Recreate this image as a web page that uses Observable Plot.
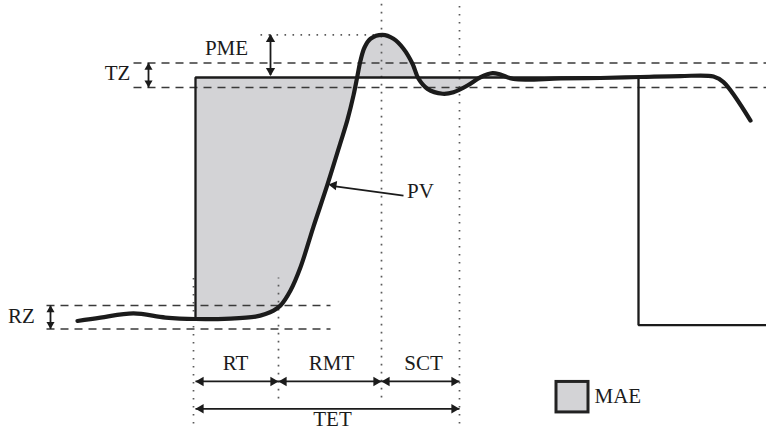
<!DOCTYPE html>
<html>
<head>
<meta charset="utf-8">
<script src="https://cdn.jsdelivr.net/npm/d3@7"></script>
<script src="https://cdn.jsdelivr.net/npm/@observablehq/plot@0.6"></script>
<style>
  html, body { margin: 0; padding: 0; background: #fff; }
  #chart svg { display: block; }
</style>
</head>
<body>
<div id="chart"></div>
<script>
// ---- Data (time in arbitrary units, value in % of step) ----
const pvTime  = [77, 100, 133, 165, 195, 230, 255, 265, 273, 280, 290, 300, 313, 327, 340, 347, 353, 357, 360, 364, 370, 382, 393, 403, 412, 418, 427, 442, 453, 467, 480, 492, 500, 513, 560, 600, 640, 680, 713, 723, 750];
const pvValue = [-0.6, 0.8, 2.5, 0.8, 0.2, 0.4, 1.2, 2.3, 3.7, 5.8, 12.0, 21.6, 38.4, 55.8, 73.1, 82.6, 92.6, 100.8, 107.0, 112.4, 116.0, 117.6, 116.0, 111.9, 105.7, 99.5, 95.3, 93.3, 93.9, 96.7, 100.1, 101.8, 101.2, 99.4, 99.6, 99.8, 100.2, 100.6, 100.4, 98.1, 82.2];

const spTime  = [195, 195, 638, 638, 766];
const spValue = [0, 100, 100, -2.3, -2.3];
const setpoint = 100;

const tzBand = [95.9, 106.0];   // tolerance zone
const rzBand = [-3.9, 5.8];     // rest zone
const peakValue = 117.6;

// milestone times: step, end of RT, end of RMT (peak), end of SCT
const tStep = 195, tRT = 278, tPeak = 381, tSettle = 459;

const spanLabels = ["RT", "RMT", "SCT"];
const spanStart  = [tStep, tRT, tPeak];
const spanEnd    = [tRT, tPeak, tSettle];
const spanY = -25.6;
const tetY = -36.9;

const labels = [
  {text: "PME", x: 226, y: 112.0},
  {text: "TZ",  x: 117, y: 101.7},
  {text: "RZ",  x: 21,  y: 1.2},
  {text: "PV",  x: 420, y: 52.9},
  {text: "RT",  x: 235, y: -18.2},
  {text: "RMT", x: 331, y: -18.2},
  {text: "SCT", x: 423, y: -18.2},
  {text: "TET", x: 332, y: -41.4}
];
const legendLabel = [{text: "MAE", x: 594, y: -31.6}];

// ---- Derived tables ----
const pv = pvTime.map((t, i) => ({t, v: pvValue[i]}));
const sp = spTime.map((t, i) => ({t, v: spValue[i]}));
const mae = pv.filter(d => d.t >= tStep && d.t <= 513);

const hArrows = spanLabels.map((l, i) => ({x1: spanStart[i], x2: spanEnd[i], y: spanY}))
  .concat([{x1: tStep, x2: tSettle, y: tetY}]);
const vArrows = [
  {x: 148, y1: tzBand[0], y2: tzBand[1], r: 2.6},
  {x: 50,  y1: rzBand[0], y2: rzBand[1], r: 2.6},
  {x: 270, y1: 101, y2: peakValue, r: 3.4}
];

const dashedLines = [
  {x1: 133, x2: 766, y: tzBand[0]},
  {x1: 133, x2: 766, y: tzBand[1]},
  {x1: 46,  x2: 330, y: rzBand[0]},
  {x1: 46,  x2: 330, y: rzBand[1]}
];
const dottedV = [
  {x: 193, y1: -43.0, y2: 17.4},
  {x: tRT, y1: -32.6, y2: 17.4},
  {x: tPeak, y1: -32.2, y2: 131.8},
  {x: tSettle, y1: -43.0, y2: 131.8}
];
const dottedH = [{x1: 260, x2: tPeak, y: peakValue}];

const pointer = [{x1: 403, y1: 51.2, x2: 333, y2: 55.1}];
const pointerTip = [{x: 328, y: 55.8}];

const legendBox = [{x1: 556, x2: 588, y1: -38.4, y2: -25.8}];

const font = "'Liberation Serif', 'DejaVu Serif', serif";
const ink = "#1b1b1b";
const shade = "#d3d3d6";

const chart = Plot.plot({
  width: 766,
  height: 431,
  margin: 0,
  x: {domain: [0, 766], axis: null},
  y: {domain: [-46.28, 131.82], axis: null},
  style: {background: "#fff"},
  marks: [
    Plot.areaY(mae, {x: "t", y1: setpoint, y2: "v", fill: shade, curve: "catmull-rom"}),
    Plot.link(dashedLines, {x1: "x1", x2: "x2", y1: "y", y2: "y", stroke: "#3a3a3a", strokeWidth: 1.6, strokeDasharray: "8,6"}),
    Plot.link(dottedV, {x1: "x", x2: "x", y1: "y1", y2: "y2", stroke: "#5a5a5a", strokeWidth: 1.7, strokeDasharray: "1.6,6.4"}),
    Plot.link(dottedH, {x1: "x1", x2: "x2", y1: "y", y2: "y", stroke: "#5a5a5a", strokeWidth: 1.7, strokeDasharray: "1.6,6.4"}),
    Plot.line(sp, {x: "t", y: "v", stroke: ink, strokeWidth: 2.3, strokeLinejoin: "miter"}),
    Plot.line(pv, {x: "t", y: "v", stroke: ink, strokeWidth: 4.2, curve: "catmull-rom", strokeLinecap: "round"}),
    // horizontal double arrows
    Plot.link(hArrows, {x1: "x1", x2: "x2", y1: "y", y2: "y", stroke: ink, strokeWidth: 1.8}),
    Plot.dot(hArrows, {x: "x1", y: "y", symbol: "triangle", rotate: -90, r: 3.5, fill: ink, stroke: "none", dx: 5.4}),
    Plot.dot(hArrows, {x: "x2", y: "y", symbol: "triangle", rotate: 90, r: 3.5, fill: ink, stroke: "none", dx: -5.4}),
    // vertical double arrows
    Plot.link(vArrows, {x1: "x", x2: "x", y1: "y1", y2: "y2", stroke: ink, strokeWidth: 1.8}),
    Plot.dot(vArrows, {x: "x", y: "y2", symbol: "triangle", rotate: 0, r: "r", fill: ink, stroke: "none", dy: 4.5}),
    Plot.dot(vArrows, {x: "x", y: "y1", symbol: "triangle", rotate: 180, r: "r", fill: ink, stroke: "none", dy: -4.5}),
    // PV pointer
    Plot.link(pointer, {x1: "x1", y1: "y1", x2: "x2", y2: "y2", stroke: ink, strokeWidth: 1.8}),
    Plot.dot(pointerTip, {x: "x", y: "y", symbol: "triangle", rotate: -82, r: 3.5, fill: ink, stroke: "none", dx: 5.3, dy: 0.8}),
    // legend swatch
    Plot.rect(legendBox, {x1: "x1", x2: "x2", y1: "y1", y2: "y2", fill: shade, stroke: "#222", strokeWidth: 3}),
    Plot.text(labels, {x: "x", y: "y", text: "text", textAnchor: "middle", lineAnchor: "middle", fontSize: 21, fontFamily: font, fill: ink}),
    Plot.text(legendLabel, {x: "x", y: "y", text: "text", textAnchor: "start", lineAnchor: "middle", fontSize: 21, fontFamily: font, fill: ink})
  ]
});
document.getElementById("chart").appendChild(chart);
</script>
</body>
</html>
